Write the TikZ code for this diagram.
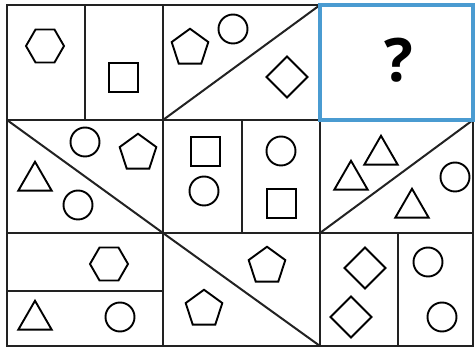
\documentclass[tikz,border=0pt]{standalone}
\usepackage{fontspec}
\setmainfont{Open Sans}
\usetikzlibrary{shapes.geometric}
\definecolor{gridc}{HTML}{222222}
\definecolor{qblue}{HTML}{4A9BD1}
\tikzset{
  gridline/.style={draw=gridc, line width=2pt},
  shp/.style={draw=black, line width=1.9pt, inner sep=0pt, outer sep=0pt},
  circ/.style={shp, circle, minimum size=29pt},
  hexa/.style={shp, regular polygon, regular polygon sides=6, minimum size=38pt},
  penta/.style={shp, regular polygon, regular polygon sides=5, minimum size=38.5pt},
  tri/.style={shp, regular polygon, regular polygon sides=3, minimum size=38.5pt},
  sq/.style={shp, line width=2pt, regular polygon, regular polygon sides=4, minimum size=41pt},
  dia/.style={shp, regular polygon, regular polygon sides=4, shape border rotate=45, minimum size=41pt},
  qbox/.style={draw=qblue, line width=3.2pt}
}
\begin{document}
\begin{tikzpicture}[x=1pt,y=-1pt]
\useasboundingbox (0,0) rectangle (475,347);
% grid coordinates
\coordinate (a) at (7,5);
\coordinate (b) at (473,346);
\coordinate (t1) at (85,5);   \coordinate (m1) at (85,120);
\coordinate (t2) at (163,5);  \coordinate (m2) at (163,120);
\coordinate (t4) at (320,5);  \coordinate (m4) at (320,120);
\coordinate (l1) at (7,120);  \coordinate (r1) at (473,120);
\coordinate (l2) at (7,233);  \coordinate (r2) at (473,233);
\coordinate (l3) at (7,291);  \coordinate (n2) at (163,291);
\coordinate (c2) at (163,233); \coordinate (c3a) at (242,120); \coordinate (c3b) at (242,233);
\coordinate (c4) at (320,233);
\coordinate (bb2) at (163,346); \coordinate (bb4) at (320,346);
\coordinate (c5) at (398,233); \coordinate (bb5) at (398,346);
% frame and dividers
\draw[gridline] (a) rectangle (b);
\draw[gridline] (l1) -- (r1);
\draw[gridline] (l2) -- (r2);
\draw[gridline] (l3) -- (n2);
\draw[gridline] (t1) -- (m1);
\draw[gridline] (t2) -- (c2) -- (bb2);
\draw[gridline] (t4) -- (m4) -- (c4) -- (bb4);
\draw[gridline] (c3a) -- (c3b);
\draw[gridline] (c5) -- (bb5);
% diagonals
\draw[gridline] (m2) -- (t4);
\draw[gridline] (l1) -- (c2);
\draw[gridline] (c4) -- (r1);
\draw[gridline] (c2) -- (bb4);
% row 1 shapes
\node[hexa] (h1) at (45,46) {};
\node[sq] (s1) at (123.5,77.5) {};
\node[penta] (p1) at (190,48) {};
\node[circ] (o1) at (233,29) {};
\node[dia] (d1) at (287,77) {};
% row 2 shapes
\node[circ] (o2) at (85,142) {};
\node[penta] (p2) at (138,153) {};
\node[tri] (tr1) at (35,181) {};
\node[circ] (o3) at (78,205) {};
\node[sq] (s2) at (205.5,151.5) {};
\node[circ] (o4) at (204,191) {};
\node[circ] (o5) at (281,151) {};
\node[sq] (s3) at (281.5,203.5) {};
\node[tri] (tr2) at (381,155) {};
\node[tri] (tr3) at (351,180) {};
\node[tri] (tr4) at (412,208) {};
\node[circ] (o6) at (455,177) {};
% row 3 shapes
\node[hexa] (h2) at (109,264) {};
\node[tri] (tr5) at (35,320) {};
\node[circ] (o7) at (120,317) {};
\node[penta] (p3) at (267,266) {};
\node[penta] (p4) at (204,309) {};
\node[dia] (d2) at (365,268) {};
\node[dia] (d3) at (351,317) {};
\node[circ] (o8) at (428,262) {};
\node[circ] (o9) at (442,317) {};
% question box
\draw[qbox] (t4) rectangle (r1);
\node[inner sep=0pt, font=\fontsize{60}{60}\selectfont\bfseries] (q) at (399,60) {?};
\end{tikzpicture}
\end{document}
